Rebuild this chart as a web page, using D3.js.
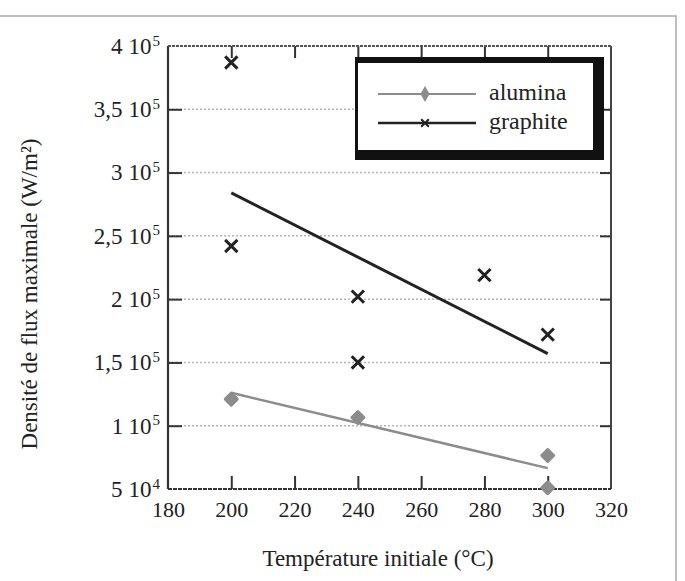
<!DOCTYPE html>
<html>
<head>
<meta charset="utf-8">
<script src="https://cdn.jsdelivr.net/npm/d3@7"></script>
<style>
  html, body { margin: 0; padding: 0; background: #fff; }
  svg { display: block; }
  text { font-family: "Liberation Serif", "DejaVu Serif", serif; fill: #222; }
</style>
</head>
<body>
<svg id="chart" width="685" height="581"></svg>
<script>
// ---- data ----
const xTicks = [180, 200, 220, 240, 260, 280, 300, 320];
const yTicks = [50000, 100000, 150000, 200000, 250000, 300000, 350000, 400000];
const yTickMantissa = ["5", "1", "1,5", "2", "2,5", "3", "3,5", "4"];
const yTickExponent = ["4", "5", "5", "5", "5", "5", "5", "5"];

const aluminaT = [200, 240, 300, 300];
const aluminaFlux = [121000, 106500, 76500, 51000];
const graphiteT = [200, 200, 240, 240, 280, 300];
const graphiteFlux = [387000, 242000, 202000, 150000, 219000, 172000];

const fitT = [200, 300];
const aluminaFit = [126000, 66500];
const graphiteFit = [284000, 157000];

const seriesNames = ["alumina", "graphite"];
const xTitle = "Température initiale (°C)";
const yTitle = "Densité de flux maximale (W/m²)";

// ---- layout ----
const svg = d3.select("#chart");
const L = 168, R = 611, T = 46, B = 489;
const x = d3.scaleLinear().domain([180, 320]).range([L, R]);
const y = d3.scaleLinear().domain([50000, 400000]).range([B, T]);

const gray = "#8c8c8c", dark = "#222";

// outer scan frame
svg.append("path").attr("d", "M0,16 H676 V581").attr("fill", "none")
  .attr("stroke", "#aaa").attr("stroke-width", 1.5);

// gridlines (horizontal dotted)
svg.append("g").selectAll("line").data(yTicks.slice(1, -1)).join("line")
  .attr("x1", L).attr("x2", R).attr("y1", d => y(d)).attr("y2", d => y(d))
  .attr("stroke", "#b5b5b5").attr("stroke-width", 1.5).attr("stroke-dasharray", "2,2");

// axes
const gx = svg.append("g").attr("transform", `translate(0,${B})`)
  .call(d3.axisBottom(x).tickValues(xTicks).tickSize(-13).tickPadding(12).tickFormat(d3.format("d")));
gx.select(".domain").remove();
gx.selectAll("line").attr("stroke", "#333").attr("stroke-width", 2);
gx.selectAll("text").attr("font-size", 22).attr("fill", "#222");
gx.selectAll(".tick").filter(d => d === 180 || d === 320).select("line").remove();

const gxt = svg.append("g").attr("transform", `translate(0,${T})`)
  .call(d3.axisTop(x).tickValues(xTicks.slice(1, -1)).tickSize(-12).tickFormat(""));
gxt.select(".domain").remove();
gxt.selectAll("line").attr("stroke", "#333").attr("stroke-width", 2);

const gy = svg.append("g").attr("transform", `translate(${L},0)`)
  .call(d3.axisLeft(y).tickValues(yTicks).tickSize(-14).tickPadding(8).tickFormat(""));
gy.select(".domain").remove();
gy.selectAll("line").attr("stroke", "#333").attr("stroke-width", 2);
gy.selectAll(".tick").filter(d => d === 50000 || d === 400000).select("line").remove();
gy.selectAll(".tick text").each(function(d, i) {
  const t = d3.select(this).attr("font-size", 23).attr("fill", "#222");
  t.append("tspan").text(yTickMantissa[i]);
  t.append("tspan").attr("dx", 6).text("10");
  t.append("tspan").text(yTickExponent[i]).attr("font-size", 15).attr("dx", 1).attr("dy", "-0.55em");
});

const gyr = svg.append("g").attr("transform", `translate(${R},0)`)
  .call(d3.axisRight(y).tickValues(yTicks.slice(1, -1)).tickSize(-11).tickFormat(""));
gyr.select(".domain").remove();
gyr.selectAll("line").attr("stroke", "#333").attr("stroke-width", 2);

// plot frame
svg.append("line").attr("x1", L).attr("x2", L).attr("y1", T).attr("y2", B)
  .attr("stroke", "#333").attr("stroke-width", 2.2);
svg.append("line").attr("x1", R).attr("x2", R).attr("y1", T).attr("y2", B)
  .attr("stroke", "#444").attr("stroke-width", 2);
svg.append("line").attr("x1", L).attr("x2", R).attr("y1", T).attr("y2", T)
  .attr("stroke", "#555").attr("stroke-width", 1.8).attr("stroke-dasharray", "3,1");
svg.append("line").attr("x1", L).attr("x2", R).attr("y1", B).attr("y2", B)
  .attr("stroke", "#333").attr("stroke-width", 2).attr("stroke-dasharray", "4,1");

// fit lines
const line = d3.line().x(d => x(d[0])).y(d => y(d[1]));
svg.append("path").datum(fitT.map((t, i) => [t, aluminaFit[i]])).attr("d", line)
  .attr("fill", "none").attr("stroke", gray).attr("stroke-width", 2.5);
svg.append("path").datum(fitT.map((t, i) => [t, graphiteFit[i]])).attr("d", line)
  .attr("fill", "none").attr("stroke", dark).attr("stroke-width", 3);

// markers
const square = d3.symbol().type(d3.symbolSquare).size(72);
const cross = d3.symbol().type(d3.symbolX).size(100);
svg.append("g").selectAll("path").data(aluminaT.map((t, i) => [t, aluminaFlux[i]])).join("path")
  .attr("d", square).attr("transform", d => `translate(${x(d[0])},${y(d[1])}) rotate(45)`)
  .attr("fill", gray).attr("stroke", gray).attr("stroke-width", 3).attr("stroke-linejoin", "round");
svg.append("g").selectAll("path").data(graphiteT.map((t, i) => [t, graphiteFlux[i]])).join("path")
  .attr("d", cross).attr("transform", d => `translate(${x(d[0])},${y(d[1])})`)
  .attr("fill", "none").attr("stroke", dark).attr("stroke-width", 3);

// legend
const lg = svg.append("g");
lg.append("rect").attr("x", 355).attr("y", 57).attr("width", 249).attr("height", 103).attr("fill", "#111");
lg.append("rect").attr("x", 358).attr("y", 63).attr("width", 235).attr("height", 87).attr("fill", "#fff");
const legendColors = [gray, dark];
const legendY = [94, 123];
seriesNames.forEach((name, i) => {
  lg.append("line").attr("x1", 378).attr("x2", 476).attr("y1", legendY[i]).attr("y2", legendY[i])
    .attr("stroke", legendColors[i]).attr("stroke-width", i === 0 ? 2 : 2.5);
  lg.append("path").attr("d", i === 0 ? d3.symbol().type(d3.symbolDiamond).size(40)() : d3.symbol().type(d3.symbolX).size(40)())
    .attr("transform", `translate(425,${legendY[i]})`)
    .attr("fill", i === 0 ? gray : "none").attr("stroke", legendColors[i]).attr("stroke-width", 2);
  lg.append("text").attr("x", 489).attr("y", legendY[i] + 6).attr("font-size", 24).text(name);
});

// axis titles
svg.append("text").attr("x", 378).attr("y", 566).attr("text-anchor", "middle")
  .attr("font-size", 23).text(xTitle);
svg.append("text").attr("transform", "translate(37,294) rotate(-90)").attr("text-anchor", "middle")
  .attr("font-size", 23).text(yTitle);
</script>
</body>
</html>
